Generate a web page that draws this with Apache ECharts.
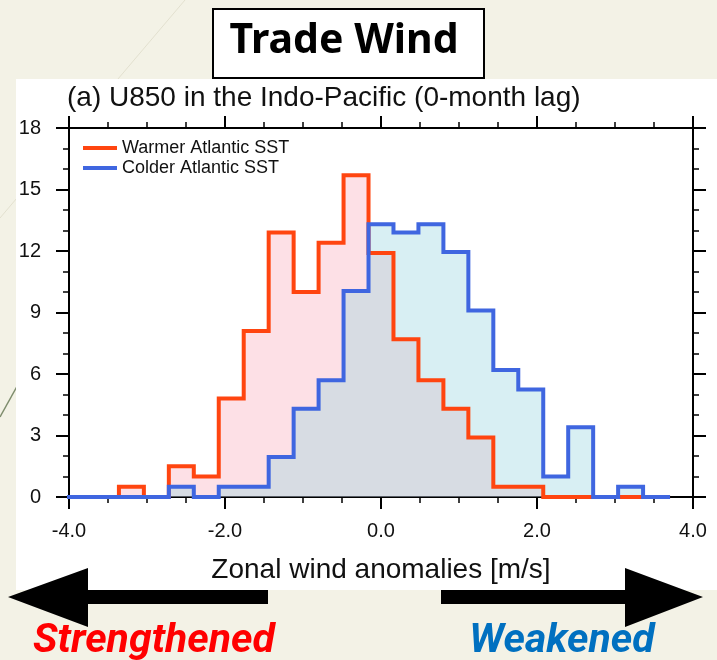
<!DOCTYPE html>
<html>
<head>
<meta charset="utf-8">
<title>Trade Wind</title>
<script src="https://cdn.jsdelivr.net/npm/echarts@6/dist/echarts.min.js"></script>
<style>
  html, body { margin: 0; padding: 0; background: #f3f2e6; }
  #chart { width: 717px; height: 660px; }
</style>
</head>
<body>
<div id="chart"></div>
<script>
// bin edges of the histogram (m/s)
const binEdges = [-4.0, -3.68, -3.36, -3.04, -2.72, -2.40, -2.08, -1.76, -1.44, -1.12, -0.80, -0.48,
  -0.16, 0.16, 0.48, 0.80, 1.12, 1.44, 1.76, 2.08, 2.40, 2.72, 3.04, 3.36, 3.68]
// percentage in each bin
const warmerPct = [0, 0, 0.5, 0, 1.5, 1.0, 4.8, 8.1, 12.9, 10.0, 12.4, 15.7,
  11.9, 7.7, 5.7, 4.3, 2.9, 0.5, 0.5, 0, 0, 0, 0, 0]
const colderPct = [0, 0, 0, 0, 0.5, 0, 0.5, 0.5, 1.95, 4.3, 5.7, 10.05,
  13.3, 12.9, 13.3, 11.95, 9.1, 6.2, 5.25, 1.0, 3.4, 0, 0.5, 0]
const xTicks = [-4, -2, 0, 2, 4]
const yTicks = [0, 3, 6, 9, 12, 15, 18]

const seriesNames = ['Warmer Atlantic SST', 'Colder Atlantic SST']

// step data: each left edge carries its bin value, last edge closes the step
function stepData(values) {
  return binEdges.map((e, i) => [e, values[Math.min(i, values.length - 1)]])
}

const chart = echarts.init(document.getElementById('chart'))

const axisFont = 'Liberation Sans, Arial, sans-serif'

const xAxisBase = {
  type: 'value',
  min: xTicks[0],
  max: xTicks[xTicks.length - 1],
  interval: xTicks[1] - xTicks[0],
  axisLine: { onZero: false, lineStyle: { color: '#000', width: 2 } },
  axisTick: { length: 12, lineStyle: { color: '#000', width: 2 } },
  minorTick: { show: true, splitNumber: 4, length: 6, lineStyle: { color: '#000', width: 1.5 } },
  splitLine: { show: false }
}
const yAxisBase = {
  type: 'value',
  min: yTicks[0],
  max: yTicks[yTicks.length - 1],
  interval: yTicks[1] - yTicks[0],
  axisLine: { show: true, onZero: false, lineStyle: { color: '#000', width: 2 } },
  axisTick: { show: true, length: 13, lineStyle: { color: '#000', width: 2 } },
  minorTick: { show: true, splitNumber: 3, length: 6, lineStyle: { color: '#000', width: 1.5 } },
  splitLine: { show: false }
}

const option = {
  backgroundColor: '#f3f2e6',
  animation: false,
  title: {
    text: '(a) U850 in the Indo-Pacific (0-month lag)',
    left: 67,
    top: 84,
    padding: 0,
    textStyle: { fontFamily: axisFont, fontSize: 28, fontWeight: 'normal', color: '#111' }
  },
  legend: {
    data: seriesNames,
    orient: 'vertical',
    left: 83,
    top: 139,
    padding: 0,
    itemGap: 2,
    itemWidth: 34,
    itemHeight: 4,
    icon: 'rect',
    textStyle: { fontFamily: axisFont, fontSize: 18, color: '#111', lineHeight: 18 }
  },
  grid: { left: 69, right: 24, top: 128, bottom: 163 },
  xAxis: [
    Object.assign({}, xAxisBase, {
      position: 'bottom',
      name: 'Zonal wind anomalies [m/s]',
      nameLocation: 'middle',
      nameGap: 59,
      nameTextStyle: { fontFamily: axisFont, fontSize: 28, color: '#111' },
      axisLabel: {
        margin: 24,
        fontFamily: axisFont,
        fontSize: 20,
        color: '#111',
        formatter: v => v.toFixed(1)
      }
    }),
    Object.assign({}, xAxisBase, { position: 'top', axisLabel: { show: false } })
  ],
  yAxis: [
    Object.assign({}, yAxisBase, {
      position: 'left',
      axisLabel: { margin: 28, fontFamily: axisFont, fontSize: 20, color: '#111' }
    }),
    Object.assign({}, yAxisBase, { position: 'right', axisLabel: { show: false } })
  ],
  graphic: [
    // slide decorations
    { type: 'line', z: -20, shape: { x1: 185, y1: 0, x2: 0, y2: 218 }, style: { stroke: '#e2e0cf', lineWidth: 1 } },
    { type: 'line', z: -20, shape: { x1: 0, y1: 417, x2: 40, y2: 345 }, style: { stroke: '#7d8c6c', lineWidth: 1.5 } },
    // white figure panel
    { type: 'rect', z: -10, shape: { x: 16, y: 79, width: 701, height: 511 }, style: { fill: '#fff' } },
    // title box
    { type: 'rect', z: 10, shape: { x: 213, y: 9, width: 271, height: 69 }, style: { fill: '#fff', stroke: '#000', lineWidth: 2 } },
    {
      type: 'text', z: 11, x: 344, y: 41,
      style: { text: 'Trade Wind', fill: '#000', font: 'bold 41px "Noto Sans", sans-serif', textAlign: 'center', textVerticalAlign: 'middle' }
    },
    // arrows
    {
      type: 'polygon', z: 10,
      shape: { points: [[8, 597], [88, 568], [88, 590], [268, 590], [268, 604], [88, 604], [88, 627]] },
      style: { fill: '#000' }
    },
    {
      type: 'polygon', z: 10,
      shape: { points: [[703, 597], [625, 568], [625, 590], [441, 590], [441, 604], [625, 604], [625, 627]] },
      style: { fill: '#000' }
    },
    {
      type: 'text', z: 10, x: 154, y: 642,
      style: { text: 'Strengthened', fill: '#ff0000', font: 'italic bold 41px Roboto, sans-serif', textAlign: 'center', textVerticalAlign: 'middle' }
    },
    {
      type: 'text', z: 10, x: 562, y: 642,
      style: { text: 'Weakened', fill: '#0070c0', font: 'italic bold 41px Roboto, sans-serif', textAlign: 'center', textVerticalAlign: 'middle' }
    }
  ],
  series: [
    {
      name: 'warmer fill',
      type: 'line',
      step: 'end',
      z: 1,
      showSymbol: false,
      silent: true,
      data: stepData(warmerPct),
      lineStyle: { width: 0 },
      areaStyle: { color: 'rgba(245, 100, 130, 0.2)', opacity: 1 }
    },
    {
      name: 'colder fill',
      type: 'line',
      step: 'end',
      z: 1,
      showSymbol: false,
      silent: true,
      data: stepData(colderPct),
      lineStyle: { width: 0 },
      areaStyle: { color: 'rgba(153, 213, 224, 0.38)', opacity: 1 }
    },
    {
      name: seriesNames[0],
      type: 'line',
      step: 'end',
      z: 3,
      showSymbol: false,
      data: stepData(warmerPct),
      itemStyle: { color: '#ff4510' },
      lineStyle: { color: '#ff4510', width: 4, cap: 'square', join: 'miter' }
    },
    {
      name: seriesNames[1],
      type: 'line',
      step: 'end',
      z: 4,
      showSymbol: false,
      data: stepData(colderPct),
      itemStyle: { color: '#3f66e0' },
      lineStyle: { color: '#3f66e0', width: 4, cap: 'square', join: 'miter' }
    }
  ]
}

chart.setOption(option)
</script>
</body>
</html>
